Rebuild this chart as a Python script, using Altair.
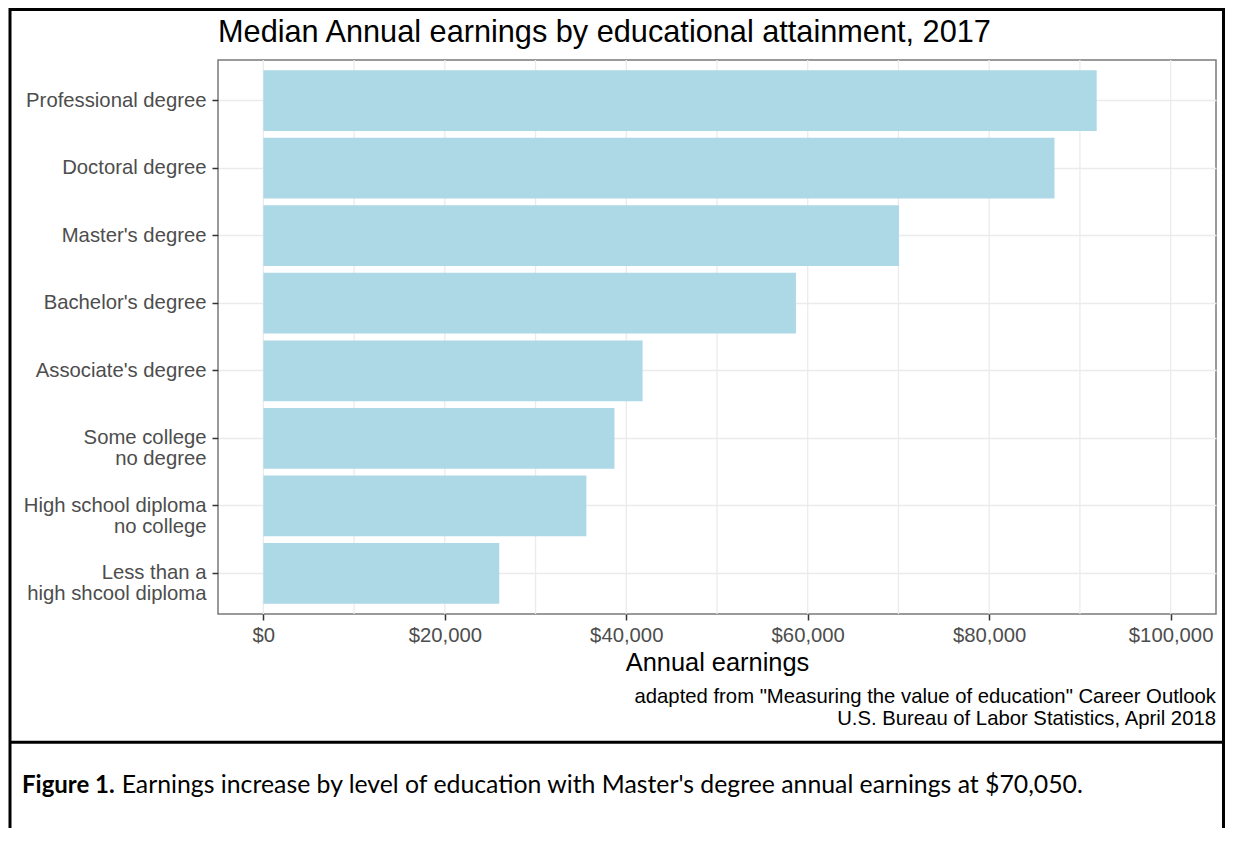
import altair as alt
import pandas as pd

# ---- data ----
categories = [
    "Professional degree",
    "Doctoral degree",
    "Master's degree",
    "Bachelor's degree",
    "Associate's degree",
    "Some college\nno degree",
    "High school diploma\nno college",
    "Less than a\nhigh shcool diploma",
]
earnings = [91850, 87200, 70050, 58700, 41800, 38700, 35600, 26000]
x_ticks = [0, 20000, 40000, 60000, 80000, 100000]
grid_values = [0, 10000, 20000, 30000, 40000, 50000, 60000, 70000, 80000, 90000, 100000]

title_text = "Median Annual earnings by educational attainment, 2017"
x_title = "Annual earnings"
source_lines = [
    "adapted from \"Measuring the value of education\" Career Outlook",
    "U.S. Bureau of Labor Statistics, April 2018",
]
fig_label = "Figure 1."
fig_text = "Earnings increase by level of education with Master's degree annual earnings at $70,050."

df = pd.DataFrame({"category": categories, "earnings": earnings})
grid_df = pd.DataFrame({"earnings": grid_values})

W, H = 998, 554
FONT = "Liberation Sans"
LBL = 20.3

xscale = alt.Scale(domain=[-5000, 105000], nice=False, zero=False)
xaxis = alt.Axis(
    values=x_ticks,
    format="$,.0f",
    grid=False,
    domain=False,
    tickColor="#333333",
    tickSize=6,
    tickWidth=1.5,
    labelColor="#4d4d4d",
    labelFontSize=LBL,
    labelFont=FONT,
    labelPadding=5,
    titleFont=FONT,
    titleFontSize=25.4,
    titleFontWeight="normal",
    titleColor="#000000",
    titlePadding=5,
)

grid = alt.Chart(grid_df).mark_rule(color="#ebebeb", strokeWidth=1.3).encode(
    x=alt.X("earnings:Q", scale=xscale, title=x_title, axis=xaxis)
)

bars = alt.Chart(df).mark_bar(color="#ADD8E6").encode(
    x=alt.X("earnings:Q", scale=xscale, title=x_title, axis=xaxis),
    y=alt.Y(
        "category:N",
        sort=categories,
        title=None,
        scale=alt.Scale(paddingInner=0.1, paddingOuter=0.15),
        axis=alt.Axis(
            grid=True,
            gridColor="#ebebeb",
            gridWidth=1.3,
            bandPosition=0.5,
            domain=False,
            tickColor="#333333",
            tickSize=6,
            tickWidth=1.5,
            labelColor="#4d4d4d",
            labelFontSize=LBL,
            labelFont=FONT,
            labelPadding=6,
            labelLineHeight=21,
            labelExpr="split(datum.label, '\\n')",
            labelLimit=400,
        ),
    ),
)

one = pd.DataFrame({"a": [0]})

title_mark = alt.Chart(pd.DataFrame({"t": [title_text]})).mark_text(
    align="left", baseline="alphabetic", font=FONT, fontSize=30.7, color="#000000"
).encode(x=alt.value(0), y=alt.value(-18), text="t:N")

src1 = alt.Chart(pd.DataFrame({"t": [source_lines[0]]})).mark_text(
    align="right", baseline="alphabetic", font=FONT, fontSize=LBL, color="#000000"
).encode(x=alt.value(W), y=alt.value(643), text="t:N")
src2 = alt.Chart(pd.DataFrame({"t": [source_lines[1]]})).mark_text(
    align="right", baseline="alphabetic", font=FONT, fontSize=LBL, color="#000000"
).encode(x=alt.value(W), y=alt.value(665), text="t:N")

frame = alt.Chart(one).mark_rect(
    fill="white", fillOpacity=0, stroke="black", strokeWidth=3
).encode(x=alt.value(-208), x2=alt.value(1005.5), y=alt.value(-50.5), y2=alt.value(800))

divider = alt.Chart(one).mark_rule(color="black", strokeWidth=3).encode(
    x=alt.value(-208), x2=alt.value(1005.5), y=alt.value(682.3)
)

fig1 = alt.Chart(pd.DataFrame({"t": [fig_label]})).mark_text(
    align="left", baseline="alphabetic", font="Lato", fontSize=24, fontWeight="bold", color="#000000"
).encode(x=alt.value(-196), y=alt.value(732.5), text="t:N")
fig2 = alt.Chart(pd.DataFrame({"t": [fig_text]})).mark_text(
    align="left", baseline="alphabetic", font="Lato", fontSize=24.8, color="#000000"
).encode(x=alt.value(-96.3), y=alt.value(732.5), text="t:N")

chart = (
    alt.layer(grid, bars, title_mark, src1, src2, frame, divider, fig1, fig2)
    .properties(
        width=W,
        height=H,
        autosize=alt.AutoSizeParams(type="none"),
        padding={"left": 210, "top": 52, "right": 9, "bottom": 214},
        background="white",
    )
    .configure_view(stroke="#7a7a7a", strokeWidth=1.5)
)

chart.save("out.html", embed_options={"renderer": "svg", "actions": False})
